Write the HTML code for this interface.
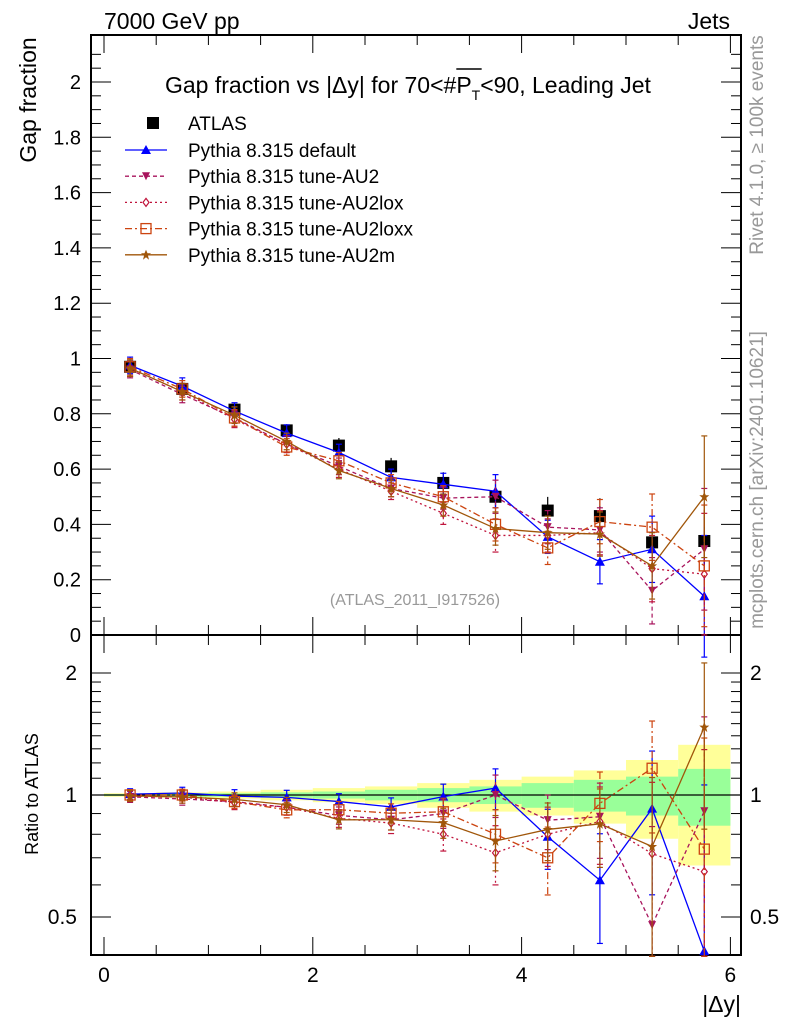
<!DOCTYPE html>
<html><head><meta charset="utf-8"><style>
body{margin:0;background:#fff}
svg text{font-family:"Liberation Sans",sans-serif}
</style></head><body>
<svg id="c" width="786" height="1024" xmlns="http://www.w3.org/2000/svg"></svg>
<script>
const xCenters=[0.25,0.75,1.25,1.75,2.25,2.75,3.25,3.75,4.25,4.75,5.25,5.75];
const atlas=[0.97,0.89,0.815,0.74,0.685,0.61,0.55,0.50,0.45,0.43,0.335,0.34];
const totRel=[0.01,0.015,0.02,0.03,0.04,0.05,0.07,0.09,0.11,0.15,0.22,0.33];
const statRel=[0.005,0.01,0.01,0.015,0.02,0.03,0.04,0.05,0.07,0.09,0.11,0.16];
const sDefault=[0.975,0.90,0.81,0.73,0.66,0.57,0.545,0.52,0.355,0.265,0.31,0.14];
const sAU2=[0.96,0.87,0.785,0.69,0.61,0.53,0.495,0.50,0.39,0.38,0.16,0.31];
const sAU2lox=[0.965,0.88,0.78,0.69,0.60,0.52,0.44,0.36,0.36,0.37,0.24,0.22];
const sAU2loxx=[0.97,0.89,0.785,0.68,0.63,0.55,0.50,0.40,0.315,0.41,0.39,0.25];
const sAU2m=[0.965,0.88,0.795,0.70,0.595,0.53,0.47,0.385,0.37,0.365,0.25,0.50];
const mcErr=[0.03,0.03,0.03,0.03,0.03,0.03,0.04,0.06,0.06,0.08,0.12,0.22];
const mainTicks=[0,0.2,0.4,0.6,0.8,1,1.2,1.4,1.6,1.8,2];
const ratioTicks=[0.5,1,2];
const xTicks=[0,2,4,6];

const svg=document.getElementById('c');
const NS='http://www.w3.org/2000/svg';
function el(t,a,p){const e=document.createElementNS(NS,t);for(const k in a)e.setAttribute(k,a[k]);(p||svg).appendChild(e);return e;}
const L=91,R=741,T=35,M=635,B=955;
const X=v=>104+104.4*v;
const Y=v=>635-276.5*v;
const YR=r=>795-122*Math.log2(r);

const series=[
 {n:'default',d:sDefault,c:'#0000ff',dash:'',m:'tri'},
 {n:'AU2',d:sAU2,c:'#a8135c',dash:'4,3',m:'dtri'},
 {n:'AU2lox',d:sAU2lox,c:'#c0143c',dash:'2,3',m:'dia'},
 {n:'AU2loxx',d:sAU2loxx,c:'#cc4410',dash:'7,3,2,3',m:'sq'},
 {n:'AU2m',d:sAU2m,c:'#a0560a',dash:'',m:'star'}];

function marker(g,t,x,y,c){
 if(t==='tri')el('polygon',{points:`${x-5},${y+4} ${x+5},${y+4} ${x},${y-5}`,fill:c},g);
 else if(t==='dtri')el('polygon',{points:`${x-4},${y-4} ${x+4},${y-4} ${x},${y+4}`,fill:c},g);
 else if(t==='dia')el('polygon',{points:`${x},${y-4} ${x+3},${y} ${x},${y+4} ${x-3},${y}`,fill:'#fff',stroke:c,'stroke-width':1.2},g);
 else if(t==='sq')el('rect',{x:x-5,y:y-5,width:10,height:10,fill:'none',stroke:c,'stroke-width':1.3},g);
 else if(t==='star')el('polygon',{points:`${x},${y-5} ${x+1.5},${y-1.5} ${x+5},${y-1.5} ${x+2},${y+1} ${x+3},${y+5} ${x},${y+2.5} ${x-3},${y+5} ${x-2},${y+1} ${x-5},${y-1.5} ${x-1.5},${y-1.5}`,fill:c},g);
 else if(t==='box')el('rect',{x:x-6,y:y-6,width:12,height:12,fill:'#000'},g);
}

const bands=el('g',{});


xCenters.forEach((x,i)=>{
 el('rect',{x:X(x-0.25),y:YR(1+totRel[i]),width:X(0.5)-X(0),height:YR(1-totRel[i])-YR(1+totRel[i]),fill:'#ffff99'},bands);
});
xCenters.forEach((x,i)=>{
 el('rect',{x:X(x-0.25),y:YR(1+statRel[i]),width:X(0.5)-X(0),height:YR(1-statRel[i])-YR(1+statRel[i]),fill:'#99ff99'},bands);
});
el('line',{x1:L,x2:R,y1:YR(1),y2:YR(1),stroke:'#000','stroke-width':1.2});

function frame(top,bot,name){const r=el('rect',{x:L,y:top,width:R-L,height:bot-top,fill:'none',stroke:'#000','stroke-width':2});}
frame(T,M,'main-plot-frame');frame(M,B,'ratio-plot-frame');
const ax=el('g',{stroke:'#000','stroke-width':1});
for(let v=0;v<=2.15;v+=0.05){const y=Y(v);if(y<T)break;const len=(Math.round(v*100)%20===0)?20:10;
 el('line',{x1:L,x2:L+len,y1:y,y2:y},ax);el('line',{x1:R,x2:R-len,y1:y,y2:y},ax);}
mainTicks.forEach(v=>{const t=el('text',{x:L-10,y:Y(v)+7,'text-anchor':'end','font-size':20});t.textContent=String(v);});
[0.5,0.6,0.7,0.8,0.9,1,1.1,1.2,1.3,1.4,1.5,1.6,1.7,1.8,1.9,2].forEach(v=>{const y=YR(v);const len=(v===0.5||v===1||v===2)?20:10;
 el('line',{x1:L,x2:L+len,y1:y,y2:y},ax);el('line',{x1:R,x2:R-len,y1:y,y2:y},ax);});
ratioTicks.forEach(v=>{let t=el('text',{x:L-14,y:YR(v)+7,'text-anchor':'end','font-size':21});t.textContent=String(v);
 t=el('text',{x:R+9,y:YR(v)+7,'font-size':21});t.textContent=String(v);});
for(let v=0;v<=6.01;v+=0.5){const x=X(v);const len=(Math.round(v*10)%20===0)?18:10;
 el('line',{x1:x,x2:x,y1:M,y2:M-len},ax);el('line',{x1:x,x2:x,y1:T,y2:T+len},ax);
 el('line',{x1:x,x2:x,y1:B,y2:B-len},ax);el('line',{x1:x,x2:x,y1:M,y2:M+len},ax);}
xTicks.forEach(v=>{const t=el('text',{x:X(v),y:982,'text-anchor':'middle','font-size':21});t.textContent=String(v);});

function drawSeries(s,vals,yf,errs,grp){
 const pts=xCenters.map((x,i)=>X(x)+','+yf(vals[i])).join(' ');
 el('polyline',{points:pts,fill:'none',stroke:s.c,'stroke-width':1.3,'stroke-dasharray':s.dash},grp);
 xCenters.forEach((x,i)=>{const hi=yf(errs[i][1]),lo=yf(errs[i][0]);
  el('line',{x1:X(x),x2:X(x),y1:hi,y2:lo,stroke:s.c,'stroke-width':1.2,'stroke-dasharray':s.dash},grp);
  el('line',{x1:X(x)-3,x2:X(x)+3,y1:hi,y2:hi,stroke:s.c,'stroke-width':1.2},grp);
  el('line',{x1:X(x)-3,x2:X(x)+3,y1:lo,y2:lo,stroke:s.c,'stroke-width':1.2},grp);
  marker(grp,s.m,X(x),yf(vals[i]),s.c);});
}
const ag=el('g',{});
xCenters.forEach((x,i)=>{const e=atlas[i]*totRel[i];
 el('line',{x1:X(x),x2:X(x),y1:Y(atlas[i]+e),y2:Y(atlas[i]-e),stroke:'#000','stroke-width':1.2},ag);
 marker(ag,'box',X(x),Y(atlas[i]),'#000');});
series.forEach(s=>{
 const g=el('g',{});
 drawSeries(s,s.d,Y,s.d.map((v,i)=>[v-mcErr[i],v+mcErr[i]]),g);
 const rg=el('g',{});
 const rv=s.d.map((v,i)=>v/atlas[i]);
 const cl=r=>YR(Math.min(2.5,Math.max(0.4,r)));
 drawSeries(s,rv,cl,s.d.map((v,i)=>[Math.max(0.4,(v-mcErr[i])/atlas[i]),(v+mcErr[i])/atlas[i]]),rg);
});

function txt(x,y,s,str,name,extra){const t=el('text',Object.assign({x:x,y:y,'font-size':s},extra||{}));t.textContent=str;return t;}
txt(104,29,23,'7000 GeV pp','energy-label');
txt(730,29,23,'Jets','process-label',{'text-anchor':'end'});
const t1=txt(165,93,23,'Gap fraction vs |Δy| for 70<#','plot-title');
let xx=165+t1.getComputedTextLength();
const tP=txt(xx,93,23,'P','title-p');
const wP=tP.getComputedTextLength();
el('line',{x1:xx,x2:xx+wP+10,y1:69,y2:69,stroke:'#000','stroke-width':1.4});
xx+=wP;
const tT=txt(xx,100,14,'T','title-subscript');
xx+=tT.getComputedTextLength();
txt(xx,93,23,'<90, Leading Jet','plot-title-end');
txt(415,605,16,'(ATLAS_2011_I917526)','analysis-label',{'text-anchor':'middle',fill:'#999'});
txt(0,0,23,'Gap fraction','y-axis-title',{transform:'translate(36,100) rotate(-90)','text-anchor':'middle'});
txt(0,0,18,'Ratio to ATLAS','ratio-axis-title',{transform:'translate(38,794) rotate(-90)','text-anchor':'middle'});
txt(741,1012,23,'|Δy|','x-axis-title',{'text-anchor':'end'});
txt(0,0,19,'Rivet 4.1.0, ≥ 100k events','rivet-label',{transform:'translate(763,145) rotate(-90)','text-anchor':'middle',fill:'#999'});
txt(0,0,19,'mcplots.cern.ch [arXiv:2401.10621]','mcplots-label',{transform:'translate(763,480) rotate(-90)','text-anchor':'middle',fill:'#999'});
const lg=el('g',{});
marker(lg,'box',153,123,'#000');
txt(188,130,19,'ATLAS','legend-entry-atlas');
const labels=['Pythia 8.315 default','Pythia 8.315 tune-AU2','Pythia 8.315 tune-AU2lox','Pythia 8.315 tune-AU2loxx','Pythia 8.315 tune-AU2m'];
series.forEach((s,i)=>{const y=150+26.2*i;
 el('line',{x1:125,x2:167,y1:y,y2:y,stroke:s.c,'stroke-width':1.3,'stroke-dasharray':s.dash},lg);
 marker(lg,s.m,146,y,s.c);
 txt(188,y+7,19,labels[i],'legend-entry-'+s.n);});
</script>
</body></html>
